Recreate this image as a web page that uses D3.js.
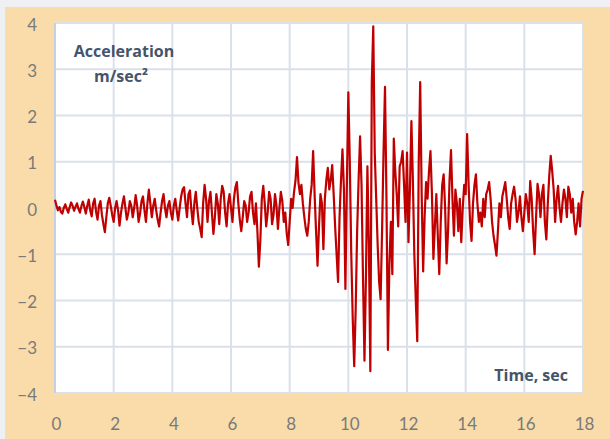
<!DOCTYPE html>
<html>
<head>
<meta charset="utf-8">
<script src="https://cdn.jsdelivr.net/npm/d3@7"></script>
<style>
  html, body { margin: 0; padding: 0; background: #ffffff; }
  svg { display: block; }
</style>
</head>
<body>
<svg id="chart" width="610" height="439"></svg>
<script>
// ---- data ----
const dt = 0.05; // sample step, seconds
const accel = [
  // 0 s
  0.18, 0.05, -0.05, 0.02, -0.08, -0.12, 0.0, 0.08, -0.02, -0.1, 0.02, 0.12, 0.05, -0.06, 0.03, 0.1, -0.02, -0.1, 0.04, 0.14,
  // 1 s
  0.02, -0.12, 0.05, 0.18, -0.05, -0.18, 0.1, 0.2, -0.08, -0.25, 0.05, 0.15, -0.15, -0.35, -0.52, -0.2, 0.1, 0.22, 0.05, -0.15,
  // 2 s
  -0.3, 0.0, 0.15, -0.05, -0.38, -0.1, 0.1, 0.25, 0.0, -0.25, -0.1, 0.15, 0.05, -0.2, 0.0, 0.28, 0.05, -0.3, -0.12, 0.15,
  // 3 s
  0.25, -0.05, -0.3, 0.1, 0.4, 0.1, -0.2, 0.05, 0.2, -0.05, -0.25, -0.4, -0.1, 0.15, 0.3, 0.0, -0.2, 0.05, 0.15, -0.1,
  // 4 s
  -0.25, 0.05, 0.2, -0.05, -0.27, 0.0, 0.25, 0.4, 0.45, 0.1, -0.2, 0.3, 0.38, -0.05, -0.35, 0.1, 0.35, 0.0, -0.3, -0.45,
  // 5 s
  -0.63, 0.1, 0.5, 0.2, -0.3, 0.15, 0.35, -0.1, -0.56, -0.2, 0.3, 0.1, -0.35, 0.2, 0.48, 0.35, -0.1, -0.4, 0.1, 0.3,
  // 6 s
  0.0, -0.3, 0.2, 0.45, 0.56, 0.1, -0.25, -0.5, -0.2, 0.15, 0.05, -0.3, -0.1, 0.25, 0.35, -0.1, -0.35, 0.1, -0.5, -1.27,
  // 7 s
  -0.7, 0.2, 0.48, 0.1, -0.4, -0.1, 0.35, 0.2, -0.35, -0.15, 0.3, 0.05, -0.45, 0.0, 0.35, 0.15, -0.3, -0.1, -0.55, -0.8,
  // 8 s
  -0.3, 0.2, 0.0, 0.35, 0.6, 1.1, 0.55, 0.3, 0.5, 0.1, -0.2, -0.45, -0.6, -0.3, 0.2, 0.5, 1.23, 0.3, -0.5, -1.25,
  // 9 s
  -0.4, 0.3, 0.1, -0.89, 0.2, 0.6, 0.87, 0.4, 0.6, 0.93, 0.3, -0.4, -1.0, -1.6, -0.2, 0.6, 1.27, 0.4, -1.75, 0.5,
  // 10 s
  2.5, 1.0, -1.0, -2.4, -3.42, -2.2, -0.5, 0.6, 1.55, 0.5, -1.5, -3.3, -1.5, 0.9, -0.8, -3.53, 2.72, 3.93, 1.2, 0.2,
  // 11 s
  -0.8, -1.6, -1.97, -0.5, 1.2, 2.62, 0.2, -3.07, -1.2, -0.3, -1.43, 1.5, 0.8, 0.3, -0.4, 0.9, 1.0, 1.23, 0.5, -0.3,
  // 12 s
  1.2, -0.74, 0.4, 1.88, 0.6, -1.0, -2.0, -2.88, 1.0, 2.72, 0.3, -1.37, -0.2, 0.56, 0.2, 0.8, 1.23, 0.3, -1.1, -0.4,
  // 13 s
  0.3, -0.6, -1.43, -0.3, 0.5, 0.73, 0.0, -1.2, -0.5, 0.6, 1.25, 0.2, -0.6, 0.4, 0.1, -0.5, 0.2, -0.74, 0.0, 0.5,
  // 14 s
  0.3, 1.6, 0.5, -0.3, -0.71, 0.1, 0.5, 0.73, 0.1, -0.3, -0.1, -0.4, 0.2, -0.2, 0.3, 0.4, 0.56, 0.2, -0.3, -0.6,
  // 15 s
  -0.8, -1.03, -0.5, 0.1, -0.2, 0.25, 0.4, 0.56, 0.2, -0.2, -0.45, 0.1, 0.3, 0.46, 0.2, -0.3, -0.1, 0.25, -0.2, -0.5,
  // 16 s
  -0.1, 0.3, 0.1, -0.3, 0.58, 0.2, -0.5, -1.0, -0.2, 0.52, 0.3, -0.2, 0.3, 0.5, -0.3, -0.68, 0.1, 0.7, 1.13, 0.8,
  // 17 s
  0.4, -0.3, 0.2, 0.48, 0.0, -0.3, 0.1, 0.4, 0.2, -0.2, 0.46, 0.3, -0.1, 0.2, -0.3, -0.57, -0.3, 0.1, -0.4, 0.2,
  // 18 s
  0.37
];
const xTicks = [0, 2, 4, 6, 8, 10, 12, 14, 16, 18];
const yTicks = [-4, -3, -2, -1, 0, 1, 2, 3, 4];
const yTitle = ["Acceleration", "m/sec²"];
const xTitle = "Time, sec";

// ---- layout ----
const W = 610, H = 439;
const plot = { left: 55, right: 583, top: 23, bottom: 393 };

const svg = d3.select("#chart");

// outer frame
svg.append("rect").attr("x", 0).attr("y", 0).attr("width", W).attr("height", H).attr("fill", "#eef0f3");
svg.append("rect").attr("x", 5).attr("y", 7).attr("width", W - 5).attr("height", H - 7).attr("fill", "#F9DCA9");
svg.append("rect").attr("x", plot.left).attr("y", plot.top)
  .attr("width", plot.right - plot.left).attr("height", plot.bottom - plot.top).attr("fill", "#ffffff");

const x = d3.scaleLinear().domain([0, 18]).range([plot.left, plot.right]);
const y = d3.scaleLinear().domain([-4, 4]).range([plot.bottom, plot.top]);

// grid
const grid = svg.append("g");
grid.selectAll("line.v").data(xTicks).join("line")
  .attr("x1", d => x(d)).attr("x2", d => x(d))
  .attr("y1", plot.top).attr("y2", plot.bottom)
  .attr("stroke", "#DAE1EB").attr("stroke-width", 2);
grid.selectAll("line.h").data(yTicks).join("line")
  .attr("x1", plot.left).attr("x2", plot.right)
  .attr("y1", d => y(d)).attr("y2", d => y(d))
  .attr("stroke", "#DAE1EB").attr("stroke-width", 2);
// left axis line and zero line
svg.append("line").attr("x1", plot.left).attr("x2", plot.left)
  .attr("y1", plot.top).attr("y2", plot.bottom)
  .attr("stroke", "#C5D0E0").attr("stroke-width", 2);
svg.append("line").attr("x1", plot.left).attr("x2", plot.right)
  .attr("y1", y(0)).attr("y2", y(0))
  .attr("stroke", "#A8B7CB").attr("stroke-width", 1.5);

// axes (labels only)
const yAxis = d3.axisLeft(y).tickValues(yTicks).tickSize(0).tickPadding(0).tickFormat(d3.format("d"));
const gy = svg.append("g").attr("transform", `translate(37,1)`).call(yAxis);
gy.select(".domain").remove();
gy.selectAll("text").attr("font-family", "Lato, 'Open Sans', sans-serif")
  .attr("font-size", 17).attr("fill", "#7a7a7a").attr("dy", "0.36em");

const xAxis = d3.axisBottom(x).tickValues(xTicks).tickSize(0).tickPadding(0).tickFormat(d3.format("d"));
const gx = svg.append("g").attr("transform", `translate(1,${418})`).call(xAxis);
gx.select(".domain").remove();
gx.selectAll("text").attr("font-family", "Lato, 'Open Sans', sans-serif")
  .attr("font-size", 17).attr("fill", "#7a7a7a").attr("dy", "0.72em");

// series line
const series = accel.map((v, i) => ({ t: i * dt, a: v }));
svg.append("path").datum(series)
  .attr("fill", "none")
  .attr("stroke", "#C00000")
  .attr("stroke-width", 2.2)
  .attr("stroke-linejoin", "round")
  .attr("d", d3.line().x(d => x(d.t)).y(d => y(d.a)));

// titles
const titleFont = "'Open Sans', Lato, sans-serif";
svg.append("text").attr("x", 124).attr("y", 57).attr("text-anchor", "middle")
  .attr("font-family", titleFont).attr("font-weight", "bold")
  .attr("font-size", 16).attr("fill", "#44546A").text(yTitle[0]);
svg.append("text").attr("x", 121).attr("y", 82).attr("text-anchor", "middle")
  .attr("font-family", titleFont).attr("font-weight", "bold")
  .attr("font-size", 16).attr("fill", "#44546A").text(yTitle[1]);
svg.append("text").attr("x", 568).attr("y", 381).attr("text-anchor", "end")
  .attr("font-family", titleFont).attr("font-weight", "bold")
  .attr("font-size", 16).attr("fill", "#44546A").text(xTitle);
</script>
</body>
</html>
